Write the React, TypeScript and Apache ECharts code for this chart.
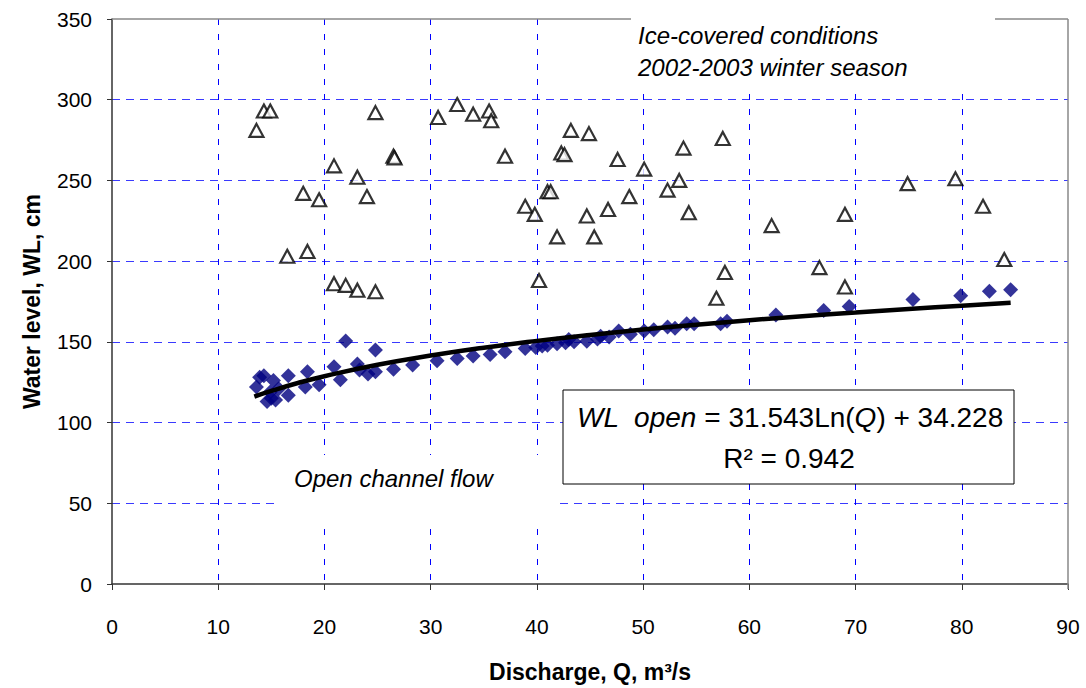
import React, { useEffect, useRef } from "react";
import * as echarts from "echarts";

// Open channel flow (diamonds)
const openQ = [13.6, 13.9, 14.3, 14.6, 14.9, 15.2, 15.4, 15.7, 15.0, 16.6, 16.6, 18.2, 18.4, 19.5, 20.9, 21.5, 22.0, 23.1, 23.3, 24.1, 24.8, 24.8, 26.5, 28.3, 30.6, 32.5, 34.0, 35.6, 37.0, 38.9, 39.9, 40.5, 41.0, 41.9, 42.7, 43.0, 43.5, 44.7, 45.7, 46.0, 46.8, 47.7, 48.8, 50.1, 51.0, 52.3, 53.0, 54.1, 54.8, 57.3, 57.9, 62.5, 67.0, 69.4, 75.4, 79.9, 82.6, 84.6];
const openWL = [122, 128, 129, 113, 119, 126, 114, 121, 115, 129, 117, 122, 131.5, 123.4, 134.6, 126.5, 150.6, 136.3, 132.6, 130.1, 131.5, 144.9, 133, 135.7, 138.3, 139.7, 141.2, 142.2, 143.8, 145.9, 146.5, 147.5, 147.9, 148.9, 149.4, 151.5, 150, 150.4, 151.8, 153.5, 153, 156.7, 154.7, 156.7, 157.5, 159.2, 158.5, 161.2, 161.2, 161.2, 162.8, 166.7, 169.4, 171.9, 176.2, 178.6, 181.3, 182.3];

// Ice-covered conditions (triangles)
const iceQ = [13.6, 14.3, 14.9, 24.8, 30.7, 32.5, 34.0, 35.5, 35.7, 20.9, 26.5, 26.6, 23.1, 37.0, 18.0, 19.5, 24.0, 38.9, 39.8, 41.0, 41.3, 41.9, 16.5, 18.4, 20.9, 22.0, 23.1, 24.8, 40.2, 43.2, 44.9, 42.3, 42.6, 47.6, 50.1, 53.8, 57.5, 48.7, 44.7, 46.7, 52.3, 53.4, 54.3, 45.4, 62.1, 69.0, 74.9, 79.4, 82.0, 57.7, 66.6, 84.0, 56.9, 69.0];
const iceWL = [281, 293, 293, 292, 289, 297, 291, 293, 287, 259, 265, 264, 252, 265, 242, 238, 240, 234, 229, 243, 243, 215, 203, 206, 186, 185, 182, 181, 188, 281, 279, 267, 266, 263, 257, 270, 276, 240, 228, 232, 244, 250, 230, 215, 222, 229, 248, 251, 234, 193, 196, 201, 177, 184];

// Logarithmic trend line
const trendQ = [13.4, 15, 17.5, 20, 25, 30, 35, 40, 45, 50, 55, 60, 65, 70, 75, 80, 84.6];
const trendWL = [116.1, 119.6, 124.5, 128.7, 135.8, 141.5, 146.4, 150.6, 154.3, 157.6, 160.6, 163.4, 165.9, 168.2, 170.4, 172.4, 174.2];

const xTicks = [0, 10, 20, 30, 40, 50, 60, 70, 80, 90];
const yTicks = [0, 50, 100, 150, 200, 250, 300, 350];

const FONT = "'Liberation Sans', Arial, sans-serif";

export default function App() {
  const ref = useRef<HTMLDivElement>(null);
  useEffect(() => {
    document.body.style.margin = "0";
    const chart = echarts.init(ref.current!, null, { renderer: "svg" });
    const gridLeft = 112, gridTop = 19, gridW = 956, gridH = 570;
    chart.setOption({
      animation: false,
      backgroundColor: "#fff",
      textStyle: { fontFamily: FONT },
      grid: { left: gridLeft, top: gridTop, width: gridW, height: gridH, containLabel: false, show: false },
      xAxis: {
        type: "value",
        min: xTicks[0],
        max: xTicks[xTicks.length - 1],
        interval: 10,
        name: "Discharge, Q, m³/s",
        nameLocation: "middle",
        nameGap: 76,
        nameTextStyle: { fontFamily: FONT, fontWeight: "bold", fontSize: 23, color: "#000" },
        axisLine: { show: true, lineStyle: { color: "#333", width: 1.5 } },
        axisTick: { show: true, inside: false, length: 6, lineStyle: { color: "#333", width: 1 } },
        axisLabel: { color: "#000", fontSize: 21, margin: 32, fontFamily: "'Liberation Sans Narrow', 'Liberation Sans', Arial, sans-serif" },
        splitLine: { show: true, showMinLine: false, showMaxLine: false, lineStyle: { color: ["#0000ff"], width: 1, type: [6, 9] } },
      },
      yAxis: {
        type: "value",
        min: yTicks[0],
        max: yTicks[yTicks.length - 1],
        interval: 50,
        name: "Water level, WL, cm",
        nameLocation: "middle",
        nameGap: 69,
        nameTextStyle: { fontFamily: FONT, fontWeight: "bold", fontSize: 23, color: "#000" },
        axisLine: { show: true, lineStyle: { color: "#333", width: 1.5 } },
        axisTick: { show: true, inside: false, length: 5, lineStyle: { color: "#333", width: 1 } },
        axisLabel: { color: "#000", fontSize: 21, margin: 20 },
        splitLine: { show: true, showMinLine: false, showMaxLine: false, lineStyle: { color: ["#3a3aff"], width: 1, type: [8, 6] } },
      },
      series: [
        {
          name: "Open channel flow",
          type: "scatter",
          symbol: "diamond",
          symbolSize: 15,
          itemStyle: { color: "#000080" },
          data: openQ.map((q, i) => [q, openWL[i]]),
          z: 2,
        },
        {
          name: "Ice-covered",
          type: "scatter",
          symbol: "triangle",
          symbolSize: [14, 13],
          itemStyle: { color: "#fff", borderColor: "#000", borderWidth: 2.2 },
          data: iceQ.map((q, i) => [q, iceWL[i]]),
          z: 3,
        },
        {
          name: "Trend",
          type: "line",
          smooth: true,
          showSymbol: false,
          symbol: "none",
          lineStyle: { color: "#000", width: 4.5 },
          data: trendQ.map((q, i) => [q, trendWL[i]]),
          z: 4,
        },
      ],
      graphic: [
        // plot area border (top/right), broken by the label box
        { type: "line", z: 20, shape: { x1: gridLeft, y1: gridTop, x2: 631, y2: gridTop }, style: { stroke: "#888", lineWidth: 1.5 } },
        { type: "line", z: 20, shape: { x1: 995, y1: gridTop, x2: gridLeft + gridW, y2: gridTop }, style: { stroke: "#888", lineWidth: 1.5 } },
        { type: "line", z: 20, shape: { x1: gridLeft + gridW, y1: gridTop, x2: gridLeft + gridW, y2: gridTop + gridH }, style: { stroke: "#888", lineWidth: 1.5 } },
        // ice label box
        { type: "rect", z: 10, shape: { x: 631, y: 10, width: 364, height: 82 }, style: { fill: "#fff" } },
        { type: "text", z: 21, x: 638, y: 35, style: { text: "Ice-covered conditions", font: `italic 24px ${FONT}`, fill: "#000", textAlign: "left", textVerticalAlign: "middle" } },
        { type: "text", z: 21, x: 638, y: 67, style: { text: "2002-2003 winter season", font: `italic 24px ${FONT}`, fill: "#000", textAlign: "left", textVerticalAlign: "middle" } },
        // open channel label box
        { type: "rect", z: 10, shape: { x: 280, y: 455, width: 280, height: 67 }, style: { fill: "#fff" } },
        { type: "text", z: 21, x: 294, y: 478, style: { text: "Open channel flow", font: `italic 24px ${FONT}`, fill: "#000", textAlign: "left", textVerticalAlign: "middle" } },
        // equation box
        { type: "rect", z: 10, shape: { x: 563, y: 390, width: 451, height: 94 }, style: { fill: "#fff", stroke: "#000", lineWidth: 1 } },
        {
          type: "text", z: 21, x: 790, y: 417,
          style: {
            text: "{i|WL  open} = 31.543Ln({i|Q}) + 34.228",
            fontFamily: FONT, fontSize: 28, fill: "#000",
            textAlign: "center", textVerticalAlign: "middle",
            rich: { i: { fontStyle: "italic", fontFamily: FONT, fontSize: 28, fill: "#000" } },
          },
        },
        { type: "text", z: 21, x: 789, y: 458, style: { text: "R² = 0.942", fontFamily: FONT, fontSize: 28, fill: "#000", textAlign: "center", textVerticalAlign: "middle" } },
      ],
    });
    return () => chart.dispose();
  }, []);
  return <div ref={ref} style={{ position: "absolute", left: 0, top: 0, width: 1086, height: 688 }} />;
}
